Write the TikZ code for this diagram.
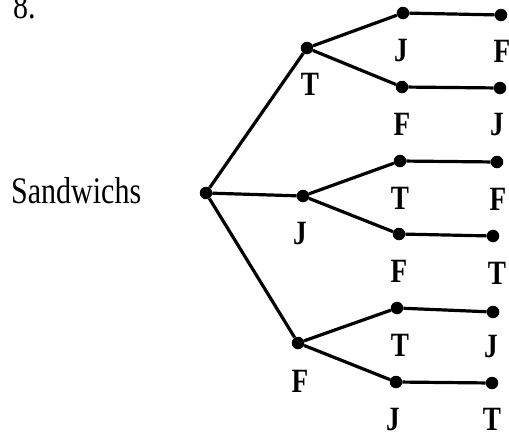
\documentclass[tikz,border=0pt]{standalone}
\usepackage{fontspec}
\setmainfont{Liberation Serif}
\usepackage{graphicx}
\newcommand\narrowtxt[1]{\scalebox{0.8}[1]{#1}}
\begin{document}
\begin{tikzpicture}[x=1pt,y=-1pt,
  dot/.style={circle,fill=black,inner sep=0pt,minimum size=12.5pt},
  edge/.style={line width=3.2pt},
  lab/.style={anchor=base,inner sep=0pt,font=\fontsize{34}{36}\selectfont\bfseries},
  big/.style={anchor=base west,inner sep=0pt,font=\fontsize{37.5}{40}\selectfont}]
\useasboundingbox (0,0) rectangle (509,437);
% dots
\node[dot] (r) at (206,193) {};
\node[dot] (a) at (307,48) {};
\node[dot] (b) at (303,196) {};
\node[dot] (c) at (298,343) {};
\node[dot] (aa) at (403,13) {};
\node[dot] (ab) at (402,87) {};
\node[dot] (ba) at (400,161) {};
\node[dot] (bb) at (399,234) {};
\node[dot] (ca) at (397,308) {};
\node[dot] (cb) at (396,382) {};
\node[dot] (aaa) at (501,15) {};
\node[dot] (aba) at (500,88) {};
\node[dot] (baa) at (497,162) {};
\node[dot] (bba) at (493,236) {};
\node[dot] (caa) at (493,312) {};
\node[dot] (cba) at (492,383) {};
% edges
\draw[edge] (r) -- (a);
\draw[edge] (r) -- (b);
\draw[edge] (r) -- (c);
\draw[edge] (a) -- (aa);
\draw[edge] (a) -- (ab);
\draw[edge] (b) -- (ba);
\draw[edge] (b) -- (bb);
\draw[edge] (c) -- (ca);
\draw[edge] (c) -- (cb);
\draw[edge] (aa) -- (aaa);
\draw[edge] (ab) -- (aba);
\draw[edge] (ba) -- (baa);
\draw[edge] (bb) -- (bba);
\draw[edge] (ca) -- (caa);
\draw[edge] (cb) -- (cba);
% labels
\node[big] (num) at (13,18) {\narrowtxt{8.}};
\node[big] (title) at (11,203) {\narrowtxt{Sandwichs}};
\node[lab] (la) at ([yshift=-47pt,xshift=3pt]a.center) {\narrowtxt{T}};
\node[lab] (lb) at ([yshift=-48pt,xshift=-3pt]b.center) {\narrowtxt{J}};
\node[lab] (lc) at ([yshift=-49pt,xshift=2pt]c.center) {\narrowtxt{F}};
\node[lab] (laa) at ([yshift=-48pt,xshift=-2pt]aa.center) {\narrowtxt{J}};
\node[lab] (lab) at ([yshift=-48pt]ab.center) {\narrowtxt{F}};
\node[lab] (lba) at ([yshift=-48pt]ba.center) {\narrowtxt{T}};
\node[lab] (lbb) at ([yshift=-48pt]bb.center) {\narrowtxt{F}};
\node[lab] (lca) at ([yshift=-48pt,xshift=3pt]ca.center) {\narrowtxt{T}};
\node[lab] (lcb) at ([yshift=-48pt,xshift=-3pt]cb.center) {\narrowtxt{J}};
\node[lab] (laaa) at ([yshift=-47pt,xshift=1pt]aaa.center) {\narrowtxt{F}};
\node[lab] (laba) at ([yshift=-47pt,xshift=-3pt]aba.center) {\narrowtxt{J}};
\node[lab] (lbaa) at ([yshift=-48pt,xshift=1pt]baa.center) {\narrowtxt{F}};
\node[lab] (lbba) at ([yshift=-48pt,xshift=4pt]bba.center) {\narrowtxt{T}};
\node[lab] (lcaa) at ([yshift=-45pt,xshift=-2pt]caa.center) {\narrowtxt{J}};
\node[lab] (lcba) at ([yshift=-47pt]cba.center) {\narrowtxt{T}};
\end{tikzpicture}
\end{document}
